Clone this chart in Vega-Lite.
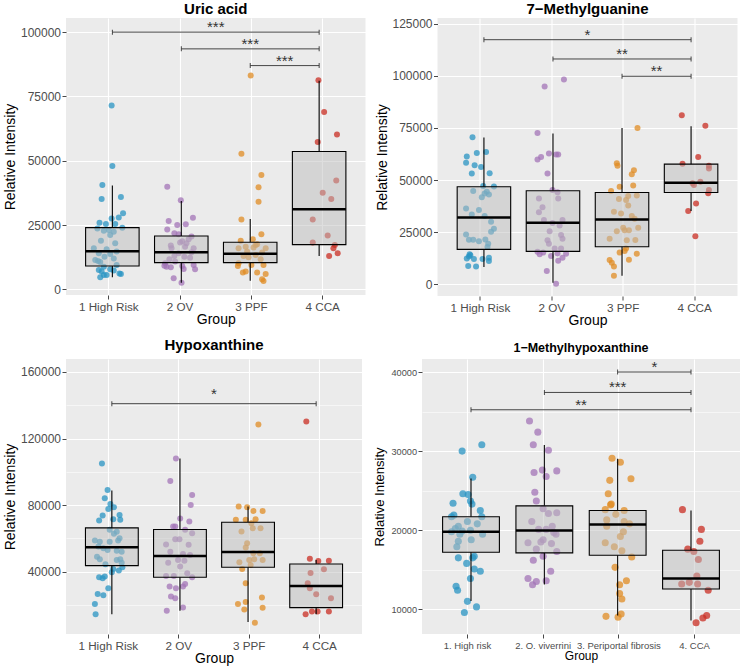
{
"$schema": "https://vega.github.io/schema/vega-lite/v6.json",
"padding": {"left": 3, "top": 2, "right": 0, "bottom": 0},
"config": {
 "font": "Liberation Sans",
 "view": {"fill": "#EBEBEB", "stroke": null},
 "axis": {"domain": false, "tickColor": "#333333", "tickSize": 4, "tickWidth": 0.9, "labelColor": "#4D4D4D", "labelFont": "Liberation Sans", "titleFont": "Liberation Sans", "titleFontWeight": "normal", "titleColor": "black", "gridColor": "white", "labelOverlap": false},
 "title": {"font": "Liberation Sans", "fontWeight": "bold", "fontSize": 15, "anchor": "middle", "color": "black"}
},
"datasets": {
 "p1": [
{"g":"1 High Risk","j":0.04,"v":71500},{"g":"1 High Risk","j":0.05,"v":48000},{"g":"1 High Risk","j":-0.09,"v":40600},{"g":"1 High Risk","j":-0.10,"v":35100},{"g":"1 High Risk","j":0.17,"v":35900},{"g":"1 High Risk","j":0.20,"v":29600},{"g":"1 High Risk","j":0.14,"v":27900},{"g":"1 High Risk","j":0.04,"v":27500},{"g":"1 High Risk","j":-0.13,"v":25900},{"g":"1 High Risk","j":-0.04,"v":25400},{"g":"1 High Risk","j":0.09,"v":25400},{"g":"1 High Risk","j":0.19,"v":23900},{"g":"1 High Risk","j":-0.16,"v":23700},{"g":"1 High Risk","j":0.00,"v":23100},{"g":"1 High Risk","j":-0.07,"v":22800},{"g":"1 High Risk","j":0.07,"v":22400},{"g":"1 High Risk","j":0.02,"v":21100},{"g":"1 High Risk","j":-0.11,"v":18900},{"g":"1 High Risk","j":0.09,"v":17900},{"g":"1 High Risk","j":-0.21,"v":16000},{"g":"1 High Risk","j":-0.03,"v":15600},{"g":"1 High Risk","j":0.11,"v":14700},{"g":"1 High Risk","j":-0.14,"v":14000},{"g":"1 High Risk","j":0.02,"v":13700},{"g":"1 High Risk","j":0.07,"v":12000},{"g":"1 High Risk","j":-0.06,"v":12700},{"g":"1 High Risk","j":-0.19,"v":11400},{"g":"1 High Risk","j":-0.15,"v":11000},{"g":"1 High Risk","j":-0.12,"v":10600},{"g":"1 High Risk","j":0.11,"v":9500},{"g":"1 High Risk","j":-0.07,"v":8800},{"g":"1 High Risk","j":0.02,"v":7800},{"g":"1 High Risk","j":-0.14,"v":7500},{"g":"1 High Risk","j":0.07,"v":7300},{"g":"1 High Risk","j":-0.10,"v":6900},{"g":"1 High Risk","j":0.15,"v":6200},{"g":"1 High Risk","j":0.17,"v":6000},{"g":"1 High Risk","j":-0.03,"v":5600},{"g":"1 High Risk","j":-0.07,"v":5600},{"g":"1 High Risk","j":-0.12,"v":4700},
{"g":"2 OV","j":-0.18,"v":39900},{"g":"2 OV","j":0.01,"v":34600},{"g":"2 OV","j":-0.16,"v":26600},{"g":"2 OV","j":0.18,"v":27800},{"g":"2 OV","j":0.08,"v":25300},{"g":"2 OV","j":-0.04,"v":25000},{"g":"2 OV","j":-0.18,"v":23300},{"g":"2 OV","j":-0.08,"v":21800},{"g":"2 OV","j":-0.02,"v":21400},{"g":"2 OV","j":0.16,"v":20500},{"g":"2 OV","j":0.12,"v":19500},{"g":"2 OV","j":0.03,"v":18700},{"g":"2 OV","j":-0.12,"v":16000},{"g":"2 OV","j":0.07,"v":16600},{"g":"2 OV","j":0.16,"v":14400},{"g":"2 OV","j":-0.02,"v":14000},{"g":"2 OV","j":-0.08,"v":13000},{"g":"2 OV","j":-0.15,"v":11700},{"g":"2 OV","j":0.06,"v":12700},{"g":"2 OV","j":0.14,"v":12300},{"g":"2 OV","j":-0.21,"v":10100},{"g":"2 OV","j":-0.07,"v":10800},{"g":"2 OV","j":-0.19,"v":8800},{"g":"2 OV","j":-0.13,"v":8600},{"g":"2 OV","j":0.03,"v":9100},{"g":"2 OV","j":0.19,"v":9500},{"g":"2 OV","j":0.21,"v":7800},{"g":"2 OV","j":0.05,"v":7900},{"g":"2 OV","j":-0.09,"v":4300},{"g":"2 OV","j":0.02,"v":2600},{"g":"2 OV","j":0.09,"v":17900},{"g":"2 OV","j":-0.22,"v":9200},{"g":"2 OV","j":0.00,"v":18200},{"g":"2 OV","j":-0.13,"v":17000},{"g":"2 OV","j":0.19,"v":16000},
{"g":"3 PPF","j":-0.01,"v":83100},{"g":"3 PPF","j":-0.14,"v":52700},{"g":"3 PPF","j":0.14,"v":44500},{"g":"3 PPF","j":0.10,"v":39700},{"g":"3 PPF","j":0.10,"v":34100},{"g":"3 PPF","j":-0.14,"v":27200},{"g":"3 PPF","j":0.14,"v":21400},{"g":"3 PPF","j":-0.15,"v":18900},{"g":"3 PPF","j":0.02,"v":19500},{"g":"3 PPF","j":0.08,"v":17500},{"g":"3 PPF","j":-0.08,"v":16600},{"g":"3 PPF","j":0.03,"v":16300},{"g":"3 PPF","j":-0.18,"v":16000},{"g":"3 PPF","j":0.20,"v":16000},{"g":"3 PPF","j":-0.06,"v":14700},{"g":"3 PPF","j":0.15,"v":14300},{"g":"3 PPF","j":0.06,"v":13400},{"g":"3 PPF","j":-0.11,"v":13000},{"g":"3 PPF","j":-0.04,"v":12500},{"g":"3 PPF","j":0.13,"v":11700},{"g":"3 PPF","j":-0.18,"v":10100},{"g":"3 PPF","j":-0.19,"v":9100},{"g":"3 PPF","j":0.00,"v":9500},{"g":"3 PPF","j":0.17,"v":9500},{"g":"3 PPF","j":-0.08,"v":6900},{"g":"3 PPF","j":-0.12,"v":6500},{"g":"3 PPF","j":0.08,"v":6500},{"g":"3 PPF","j":0.20,"v":6000},{"g":"3 PPF","j":0.15,"v":3900},{"g":"3 PPF","j":0.17,"v":3200},{"g":"3 PPF","j":0.06,"v":17200},
{"g":"4 CCA","j":-0.06,"v":81300},{"g":"4 CCA","j":0.02,"v":69000},{"g":"4 CCA","j":0.20,"v":60200},{"g":"4 CCA","j":-0.07,"v":57300},{"g":"4 CCA","j":0.19,"v":42300},{"g":"4 CCA","j":0.00,"v":37600},{"g":"4 CCA","j":0.12,"v":35100},{"g":"4 CCA","j":-0.14,"v":27200},{"g":"4 CCA","j":0.07,"v":20900},{"g":"4 CCA","j":-0.14,"v":18200},{"g":"4 CCA","j":0.17,"v":17200},{"g":"4 CCA","j":0.15,"v":16000},{"g":"4 CCA","j":0.21,"v":14000},{"g":"4 CCA","j":0.09,"v":13000}
 ],
 "b1": [
{"i":1,"lo":4670,"q1":9080,"med":14790,"q3":24000,"hi":40340},
{"i":2,"lo":2590,"q1":10380,"med":14400,"q3":20750,"hi":34370},
{"i":3,"lo":3370,"q1":10380,"med":13880,"q3":18290,"hi":27370},
{"i":4,"lo":12970,"q1":17380,"med":31130,"q3":53570,"hi":81060}
 ],
 "s1": [
{"a":1,"b":4,"y":100000,"t":"***"},{"a":2,"b":4,"y":93500,"t":"***"},{"a":3,"b":4,"y":87000,"t":"***"}
 ],
 "p2": [
{"g":"1 High Risk","j":-0.11,"v":70500},{"g":"1 High Risk","j":-0.19,"v":61300},{"g":"1 High Risk","j":0.08,"v":63500},{"g":"1 High Risk","j":-0.05,"v":63000},{"g":"1 High Risk","j":-0.20,"v":58300},{"g":"1 High Risk","j":-0.08,"v":57100},{"g":"1 High Risk","j":0.01,"v":56300},{"g":"1 High Risk","j":-0.12,"v":53100},{"g":"1 High Risk","j":0.13,"v":53300},{"g":"1 High Risk","j":0.04,"v":47100},{"g":"1 High Risk","j":0.19,"v":46900},{"g":"1 High Risk","j":0.09,"v":44400},{"g":"1 High Risk","j":-0.10,"v":44800},{"g":"1 High Risk","j":0.06,"v":43600},{"g":"1 High Risk","j":0.12,"v":43100},{"g":"1 High Risk","j":0.02,"v":41800},{"g":"1 High Risk","j":-0.20,"v":36400},{"g":"1 High Risk","j":-0.02,"v":35600},{"g":"1 High Risk","j":0.06,"v":32700},{"g":"1 High Risk","j":-0.12,"v":33500},{"g":"1 High Risk","j":0.15,"v":30000},{"g":"1 High Risk","j":0.19,"v":26700},{"g":"1 High Risk","j":0.15,"v":25200},{"g":"1 High Risk","j":-0.20,"v":23900},{"g":"1 High Risk","j":-0.16,"v":21400},{"g":"1 High Risk","j":-0.10,"v":21400},{"g":"1 High Risk","j":-0.02,"v":20700},{"g":"1 High Risk","j":0.07,"v":21500},{"g":"1 High Risk","j":0.11,"v":19500},{"g":"1 High Risk","j":0.10,"v":17900},{"g":"1 High Risk","j":-0.15,"v":14400},{"g":"1 High Risk","j":-0.16,"v":13400},{"g":"1 High Risk","j":-0.19,"v":12400},{"g":"1 High Risk","j":-0.09,"v":12100},{"g":"1 High Risk","j":0.03,"v":12100},{"g":"1 High Risk","j":0.12,"v":12800},{"g":"1 High Risk","j":0.12,"v":11200},{"g":"1 High Risk","j":-0.17,"v":8800},{"g":"1 High Risk","j":-0.06,"v":8500},{"g":"1 High Risk","j":-0.14,"v":13900},
{"g":"2 OV","j":0.17,"v":98200},{"g":"2 OV","j":-0.10,"v":94800},{"g":"2 OV","j":-0.20,"v":72500},{"g":"2 OV","j":-0.04,"v":62700},{"g":"2 OV","j":0.09,"v":62200},{"g":"2 OV","j":0.06,"v":62200},{"g":"2 OV","j":-0.15,"v":61000},{"g":"2 OV","j":-0.20,"v":59900},{"g":"2 OV","j":-0.06,"v":53100},{"g":"2 OV","j":0.01,"v":45200},{"g":"2 OV","j":0.08,"v":44200},{"g":"2 OV","j":-0.18,"v":41200},{"g":"2 OV","j":0.09,"v":41200},{"g":"2 OV","j":-0.13,"v":36900},{"g":"2 OV","j":-0.18,"v":34600},{"g":"2 OV","j":-0.11,"v":30800},{"g":"2 OV","j":0.15,"v":30800},{"g":"2 OV","j":0.11,"v":28200},{"g":"2 OV","j":0.01,"v":29400},{"g":"2 OV","j":-0.03,"v":25500},{"g":"2 OV","j":0.13,"v":23600},{"g":"2 OV","j":0.15,"v":21900},{"g":"2 OV","j":-0.06,"v":21100},{"g":"2 OV","j":-0.04,"v":19500},{"g":"2 OV","j":-0.20,"v":15600},{"g":"2 OV","j":-0.12,"v":15200},{"g":"2 OV","j":0.04,"v":17200},{"g":"2 OV","j":0.13,"v":17200},{"g":"2 OV","j":-0.17,"v":14400},{"g":"2 OV","j":0.20,"v":14700},{"g":"2 OV","j":-0.01,"v":13600},{"g":"2 OV","j":0.15,"v":12800},{"g":"2 OV","j":0.09,"v":11300},{"g":"2 OV","j":-0.07,"v":6400},{"g":"2 OV","j":0.06,"v":300},{"g":"2 OV","j":0.08,"v":14800},
{"g":"3 PPF","j":0.20,"v":75000},{"g":"3 PPF","j":-0.09,"v":58100},{"g":"3 PPF","j":-0.08,"v":56800},{"g":"3 PPF","j":0.15,"v":54700},{"g":"3 PPF","j":0.12,"v":52800},{"g":"3 PPF","j":-0.05,"v":46800},{"g":"3 PPF","j":0.14,"v":47400},{"g":"3 PPF","j":-0.17,"v":44700},{"g":"3 PPF","j":0.07,"v":42300},{"g":"3 PPF","j":0.19,"v":42600},{"g":"3 PPF","j":-0.06,"v":40900},{"g":"3 PPF","j":0.04,"v":40400},{"g":"3 PPF","j":0.07,"v":37800},{"g":"3 PPF","j":-0.13,"v":34800},{"g":"3 PPF","j":-0.03,"v":34000},{"g":"3 PPF","j":0.12,"v":32700},{"g":"3 PPF","j":0.16,"v":31400},{"g":"3 PPF","j":0.00,"v":27100},{"g":"3 PPF","j":0.21,"v":27100},{"g":"3 PPF","j":0.02,"v":25900},{"g":"3 PPF","j":0.08,"v":25900},{"g":"3 PPF","j":-0.09,"v":25500},{"g":"3 PPF","j":-0.19,"v":21900},{"g":"3 PPF","j":0.05,"v":21100},{"g":"3 PPF","j":0.17,"v":21200},{"g":"3 PPF","j":0.04,"v":17200},{"g":"3 PPF","j":-0.05,"v":15200},{"g":"3 PPF","j":0.19,"v":14700},{"g":"3 PPF","j":0.08,"v":11800},{"g":"3 PPF","j":-0.19,"v":11700},{"g":"3 PPF","j":-0.16,"v":10400},{"g":"3 PPF","j":-0.13,"v":8500},{"g":"3 PPF","j":-0.13,"v":4100},{"g":"3 PPF","j":0.02,"v":16000},
{"g":"4 CCA","j":-0.18,"v":81100},{"g":"4 CCA","j":0.15,"v":76000},{"g":"4 CCA","j":0.05,"v":61000},{"g":"4 CCA","j":-0.17,"v":57800},{"g":"4 CCA","j":0.20,"v":56800},{"g":"4 CCA","j":0.20,"v":55500},{"g":"4 CCA","j":0.08,"v":49200},{"g":"4 CCA","j":-0.03,"v":48500},{"g":"4 CCA","j":-0.01,"v":47600},{"g":"4 CCA","j":0.20,"v":45200},{"g":"4 CCA","j":0.19,"v":43700},{"g":"4 CCA","j":0.02,"v":38800},{"g":"4 CCA","j":-0.09,"v":35100},{"g":"4 CCA","j":0.01,"v":23000}
 ],
 "b2": [
{"i":1,"lo":8300,"q1":16760,"med":32080,"q3":46760,"hi":70380},
{"i":2,"lo":800,"q1":15800,"med":29530,"q3":44850,"hi":72300},
{"i":3,"lo":4150,"q1":18030,"med":31120,"q3":44050,"hi":75010},
{"i":4,"lo":35110,"q1":44050,"med":48680,"q3":57620,"hi":75810}
 ],
 "s2": [
{"a":1,"b":4,"y":117300,"t":"*"},{"a":2,"b":4,"y":108050,"t":"**"},{"a":3,"b":4,"y":99750,"t":"**"}
 ],
 "p3": [
{"g":"1 High Risk","j":-0.09,"v":105000},{"g":"1 High Risk","j":-0.01,"v":89000},{"g":"1 High Risk","j":-0.05,"v":84100},{"g":"1 High Risk","j":0.03,"v":80700},{"g":"1 High Risk","j":0.08,"v":78700},{"g":"1 High Risk","j":0.00,"v":77700},{"g":"1 High Risk","j":-0.13,"v":70700},{"g":"1 High Risk","j":0.16,"v":74100},{"g":"1 High Risk","j":0.17,"v":71100},{"g":"1 High Risk","j":0.07,"v":71500},{"g":"1 High Risk","j":-0.08,"v":73700},{"g":"1 High Risk","j":0.02,"v":65100},{"g":"1 High Risk","j":0.12,"v":63900},{"g":"1 High Risk","j":0.08,"v":62700},{"g":"1 High Risk","j":0.16,"v":60100},{"g":"1 High Risk","j":-0.19,"v":58700},{"g":"1 High Risk","j":-0.12,"v":57900},{"g":"1 High Risk","j":0.02,"v":57900},{"g":"1 High Risk","j":0.14,"v":58700},{"g":"1 High Risk","j":-0.14,"v":55100},{"g":"1 High Risk","j":-0.07,"v":54100},{"g":"1 High Risk","j":-0.01,"v":53000},{"g":"1 High Risk","j":0.12,"v":52600},{"g":"1 High Risk","j":0.19,"v":52000},{"g":"1 High Risk","j":-0.16,"v":49000},{"g":"1 High Risk","j":-0.12,"v":47400},{"g":"1 High Risk","j":0.12,"v":47000},{"g":"1 High Risk","j":0.17,"v":47400},{"g":"1 High Risk","j":0.19,"v":45400},{"g":"1 High Risk","j":-0.04,"v":44400},{"g":"1 High Risk","j":0.20,"v":42600},{"g":"1 High Risk","j":0.07,"v":41600},{"g":"1 High Risk","j":0.15,"v":40600},{"g":"1 High Risk","j":0.05,"v":39600},{"g":"1 High Risk","j":-0.13,"v":36600},{"g":"1 High Risk","j":-0.08,"v":36000},{"g":"1 High Risk","j":-0.05,"v":37000},{"g":"1 High Risk","j":0.00,"v":30000},{"g":"1 High Risk","j":-0.15,"v":26600},{"g":"1 High Risk","j":-0.07,"v":25800},{"g":"1 High Risk","j":-0.19,"v":20500},{"g":"1 High Risk","j":-0.18,"v":14300},
{"g":"2 OV","j":-0.04,"v":108000},{"g":"2 OV","j":-0.12,"v":94400},{"g":"2 OV","j":0.19,"v":86000},{"g":"2 OV","j":0.17,"v":80100},{"g":"2 OV","j":0.02,"v":71900},{"g":"2 OV","j":0.15,"v":70100},{"g":"2 OV","j":-0.08,"v":67100},{"g":"2 OV","j":-0.05,"v":67100},{"g":"2 OV","j":0.09,"v":65100},{"g":"2 OV","j":0.19,"v":63100},{"g":"2 OV","j":-0.05,"v":59500},{"g":"2 OV","j":0.01,"v":59500},{"g":"2 OV","j":-0.18,"v":56300},{"g":"2 OV","j":0.14,"v":56100},{"g":"2 OV","j":-0.12,"v":52000},{"g":"2 OV","j":0.06,"v":50600},{"g":"2 OV","j":0.16,"v":50000},{"g":"2 OV","j":-0.01,"v":47000},{"g":"2 OV","j":0.08,"v":46600},{"g":"2 OV","j":-0.15,"v":45400},{"g":"2 OV","j":0.02,"v":43000},{"g":"2 OV","j":0.12,"v":39000},{"g":"2 OV","j":-0.18,"v":37400},{"g":"2 OV","j":-0.07,"v":37400},{"g":"2 OV","j":0.19,"v":36600},{"g":"2 OV","j":-0.13,"v":31000},{"g":"2 OV","j":-0.04,"v":30000},{"g":"2 OV","j":0.06,"v":31000},{"g":"2 OV","j":0.09,"v":32600},{"g":"2 OV","j":-0.11,"v":25000},{"g":"2 OV","j":-0.05,"v":24000},{"g":"2 OV","j":0.06,"v":18500},{"g":"2 OV","j":-0.17,"v":16500},
{"g":"3 PPF","j":0.13,"v":128500},{"g":"3 PPF","j":-0.15,"v":79100},{"g":"3 PPF","j":-0.03,"v":78700},{"g":"3 PPF","j":0.06,"v":76500},{"g":"3 PPF","j":0.19,"v":76500},{"g":"3 PPF","j":-0.19,"v":71100},{"g":"3 PPF","j":0.09,"v":71500},{"g":"3 PPF","j":-0.05,"v":71100},{"g":"3 PPF","j":0.03,"v":69100},{"g":"3 PPF","j":-0.11,"v":64100},{"g":"3 PPF","j":0.05,"v":66100},{"g":"3 PPF","j":0.16,"v":66100},{"g":"3 PPF","j":-0.03,"v":57100},{"g":"3 PPF","j":-0.05,"v":54500},{"g":"3 PPF","j":0.06,"v":51000},{"g":"3 PPF","j":0.15,"v":51000},{"g":"3 PPF","j":0.00,"v":47000},{"g":"3 PPF","j":0.07,"v":47400},{"g":"3 PPF","j":0.19,"v":47000},{"g":"3 PPF","j":-0.14,"v":45600},{"g":"3 PPF","j":0.02,"v":44000},{"g":"3 PPF","j":-0.10,"v":41600},{"g":"3 PPF","j":-0.05,"v":33000},{"g":"3 PPF","j":-0.05,"v":21700},{"g":"3 PPF","j":-0.16,"v":20500},{"g":"3 PPF","j":-0.07,"v":17300},{"g":"3 PPF","j":0.18,"v":24500},{"g":"3 PPF","j":0.19,"v":18300},{"g":"3 PPF","j":0.08,"v":9300},
{"g":"4 CCA","j":-0.19,"v":130300},{"g":"4 CCA","j":-0.14,"v":47800},{"g":"4 CCA","j":-0.02,"v":46400},{"g":"4 CCA","j":0.13,"v":46600},{"g":"4 CCA","j":0.06,"v":41400},{"g":"4 CCA","j":-0.13,"v":39200},{"g":"4 CCA","j":-0.17,"v":33000},{"g":"4 CCA","j":-0.14,"v":30000},{"g":"4 CCA","j":-0.05,"v":26400},{"g":"4 CCA","j":0.16,"v":24000},{"g":"4 CCA","j":-0.03,"v":16000},{"g":"4 CCA","j":-0.11,"v":16000},{"g":"4 CCA","j":0.13,"v":16000},{"g":"4 CCA","j":-0.20,"v":14300}
 ],
 "b3": [
{"i":1,"lo":14310,"q1":43610,"med":54650,"q3":66290,"hi":88760},
{"i":2,"lo":16520,"q1":36590,"med":49430,"q3":65280,"hi":108030},
{"i":3,"lo":9700,"q1":42610,"med":51840,"q3":69700,"hi":79130},
{"i":4,"lo":14310,"q1":18330,"med":31370,"q3":44620,"hi":47020}
 ],
 "s3": [
{"a":1,"b":4,"y":140940,"t":"*"}
 ],
 "p4": [
{"g":"1. High risk","j":0.19,"v":30800},{"g":"1. High risk","j":-0.07,"v":30000},{"g":"1. High risk","j":0.07,"v":26700},{"g":"1. High risk","j":-0.06,"v":24600},{"g":"1. High risk","j":0.01,"v":24500},{"g":"1. High risk","j":0.04,"v":23700},{"g":"1. High risk","j":-0.19,"v":23400},{"g":"1. High risk","j":0.06,"v":23300},{"g":"1. High risk","j":0.17,"v":22500},{"g":"1. High risk","j":-0.18,"v":21900},{"g":"1. High risk","j":0.19,"v":21700},{"g":"1. High risk","j":-0.21,"v":21700},{"g":"1. High risk","j":0.00,"v":21100},{"g":"1. High risk","j":0.13,"v":20800},{"g":"1. High risk","j":-0.12,"v":20500},{"g":"1. High risk","j":-0.16,"v":20200},{"g":"1. High risk","j":0.04,"v":20000},{"g":"1. High risk","j":-0.07,"v":19900},{"g":"1. High risk","j":-0.21,"v":19800},{"g":"1. High risk","j":0.20,"v":19500},{"g":"1. High risk","j":-0.10,"v":19500},{"g":"1. High risk","j":0.05,"v":18800},{"g":"1. High risk","j":-0.12,"v":18600},{"g":"1. High risk","j":-0.14,"v":17900},{"g":"1. High risk","j":-0.12,"v":16500},{"g":"1. High risk","j":0.09,"v":16700},{"g":"1. High risk","j":0.07,"v":16500},{"g":"1. High risk","j":-0.01,"v":15800},{"g":"1. High risk","j":0.09,"v":15100},{"g":"1. High risk","j":0.17,"v":14800},{"g":"1. High risk","j":0.04,"v":13900},{"g":"1. High risk","j":-0.15,"v":12900},{"g":"1. High risk","j":-0.13,"v":12400},{"g":"1. High risk","j":0.00,"v":11000},{"g":"1. High risk","j":0.12,"v":10300},{"g":"1. High risk","j":-0.04,"v":9600},
{"g":"2. O. viverrini","j":-0.18,"v":33800},{"g":"2. O. viverrini","j":-0.07,"v":32400},{"g":"2. O. viverrini","j":-0.13,"v":30800},{"g":"2. O. viverrini","j":0.07,"v":30100},{"g":"2. O. viverrini","j":-0.01,"v":27600},{"g":"2. O. viverrini","j":0.18,"v":27500},{"g":"2. O. viverrini","j":-0.12,"v":27300},{"g":"2. O. viverrini","j":0.04,"v":26800},{"g":"2. O. viverrini","j":-0.11,"v":24800},{"g":"2. O. viverrini","j":-0.09,"v":23700},{"g":"2. O. viverrini","j":0.00,"v":22700},{"g":"2. O. viverrini","j":0.18,"v":22200},{"g":"2. O. viverrini","j":0.07,"v":22100},{"g":"2. O. viverrini","j":-0.15,"v":21100},{"g":"2. O. viverrini","j":0.12,"v":20500},{"g":"2. O. viverrini","j":0.04,"v":20100},{"g":"2. O. viverrini","j":0.14,"v":19700},{"g":"2. O. viverrini","j":0.17,"v":19500},{"g":"2. O. viverrini","j":0.00,"v":18800},{"g":"2. O. viverrini","j":-0.20,"v":18400},{"g":"2. O. viverrini","j":0.11,"v":18300},{"g":"2. O. viverrini","j":-0.09,"v":17600},{"g":"2. O. viverrini","j":0.18,"v":17300},{"g":"2. O. viverrini","j":0.00,"v":16700},{"g":"2. O. viverrini","j":-0.13,"v":16200},{"g":"2. O. viverrini","j":0.10,"v":14800},{"g":"2. O. viverrini","j":-0.20,"v":13900},{"g":"2. O. viverrini","j":-0.09,"v":13500},{"g":"2. O. viverrini","j":0.04,"v":13600},{"g":"2. O. viverrini","j":-0.14,"v":13100},{"g":"2. O. viverrini","j":-0.03,"v":18500},{"g":"2. O. viverrini","j":-0.06,"v":20100},
{"g":"3. Periportal fibrosis","j":-0.09,"v":29100},{"g":"3. Periportal fibrosis","j":0.02,"v":28600},{"g":"3. Periportal fibrosis","j":-0.12,"v":26300},{"g":"3. Periportal fibrosis","j":0.16,"v":26500},{"g":"3. Periportal fibrosis","j":-0.14,"v":24600},{"g":"3. Periportal fibrosis","j":-0.10,"v":23300},{"g":"3. Periportal fibrosis","j":-0.18,"v":22600},{"g":"3. Periportal fibrosis","j":0.07,"v":22500},{"g":"3. Periportal fibrosis","j":-0.04,"v":22000},{"g":"3. Periportal fibrosis","j":-0.16,"v":21300},{"g":"3. Periportal fibrosis","j":0.07,"v":21100},{"g":"3. Periportal fibrosis","j":-0.16,"v":20500},{"g":"3. Periportal fibrosis","j":0.14,"v":20800},{"g":"3. Periportal fibrosis","j":0.06,"v":19800},{"g":"3. Periportal fibrosis","j":0.02,"v":19200},{"g":"3. Periportal fibrosis","j":-0.06,"v":17900},{"g":"3. Periportal fibrosis","j":0.04,"v":17400},{"g":"3. Periportal fibrosis","j":-0.18,"v":18400},{"g":"3. Periportal fibrosis","j":0.17,"v":16600},{"g":"3. Periportal fibrosis","j":-0.05,"v":15300},{"g":"3. Periportal fibrosis","j":0.10,"v":13600},{"g":"3. Periportal fibrosis","j":0.01,"v":13100},{"g":"3. Periportal fibrosis","j":0.01,"v":12000},{"g":"3. Periportal fibrosis","j":0.04,"v":11300},{"g":"3. Periportal fibrosis","j":0.03,"v":9400},{"g":"3. Periportal fibrosis","j":-0.01,"v":9000},{"g":"3. Periportal fibrosis","j":-0.17,"v":9100},{"g":"3. Periportal fibrosis","j":-0.11,"v":23200},
{"g":"4. CCA","j":-0.16,"v":22600},{"g":"4. CCA","j":0.09,"v":20100},{"g":"4. CCA","j":0.07,"v":18600},{"g":"4. CCA","j":-0.09,"v":17600},{"g":"4. CCA","j":-0.01,"v":17300},{"g":"4. CCA","j":0.05,"v":16300},{"g":"4. CCA","j":0.03,"v":14200},{"g":"4. CCA","j":-0.07,"v":13400},{"g":"4. CCA","j":-0.17,"v":13200},{"g":"4. CCA","j":0.04,"v":13200},{"g":"4. CCA","j":0.18,"v":12400},{"g":"4. CCA","j":0.16,"v":9200},{"g":"4. CCA","j":0.11,"v":8900},{"g":"4. CCA","j":0.02,"v":8300}
 ],
 "b4": [
{"i":1,"lo":11055,"q1":17215,"med":19790,"q3":21690,"hi":26540},
{"i":2,"lo":13120,"q1":17130,"med":19960,"q3":23080,"hi":30760},
{"i":3,"lo":9200,"q1":16835,"med":20720,"q3":22490,"hi":29030},
{"i":4,"lo":8570,"q1":12570,"med":13880,"q3":17470,"hi":22490}
 ],
 "s4": [
{"a":3,"b":4,"y":40000,"t":"*"},{"a":2,"b":4,"y":37420,"t":"***"},{"a":1,"b":4,"y":35230,"t":"**"}
 ]
},
"bounds": "full",
"spacing": 10,
"resolve": {"scale": {"color": "independent", "xOffset": "independent"}},
"vconcat": [
{
 "hconcat": [
  {
   "width": 299.5, "height": 277,
   "title": {"text": "Uric acid", "offset": 1, "fontSize": 15},
   "resolve": {"scale": {"x": "independent"}},
   "layer": [
    {"data": {"name": "p1"}, "mark": {"type": "circle", "size": 36, "opacity": 0.75},
     "encoding": {
      "x": {"field": "g", "type": "nominal", "title": "Group",
       "scale": {"domain": ["1 High Risk","2 OV","3 PPF","4 CCA"], "paddingInner": 0, "paddingOuter": 0.1},
       "axis": {"labelAngle": 0, "grid": true, "bandPosition": 0.5, "gridWidth": 1.1, "labelFontSize": 11.7, "titleFontSize": 14, "labelPadding": 2, "titlePadding": 0}},
      "xOffset": {"field": "j", "type": "quantitative", "scale": {"domain": [-0.5, 0.5]}},
      "y": {"field": "v", "type": "quantitative", "scale": {"domain": [-2200, 105500], "nice": false, "zero": false},
        "axis": {"title": "Relative Intensity", "values": [0,12500,25000,37500,50000,62500,75000,87500,100000],
         "labelExpr": "datum.value % 25000 === 0 ? format(datum.value, 'd') : ''",
         "gridWidth": {"condition": {"test": "datum.value % 25000 !== 0", "value": 0.55}, "value": 1.1},
         "tickOpacity": {"condition": {"test": "datum.value % 25000 !== 0", "value": 0}, "value": 1},
         "labelFontSize": 12, "titleFontSize": 14, "labelPadding": 1.5, "titlePadding": 2.5}},
      "color": {"field": "g", "type": "nominal", "scale": {"domain": ["1 High Risk","2 OV","3 PPF","4 CCA"], "range": ["#2A94C3","#A374B7","#E08C24","#CA2E23"]}, "legend": null}}},
    {
     "layer": [
      {"data": {"name": "b1"}, "mark": {"type": "rule", "color": "black", "strokeWidth": 1.1}, "encoding": {"x": {"field": "i", "type": "quantitative", "scale": {"domain": [0.4, 4.6], "nice": false, "zero": false}, "axis": null}, "y": {"field": "lo", "type": "quantitative"}, "y2": {"field": "q1"}}},
      {"data": {"name": "b1"}, "mark": {"type": "rule", "color": "black", "strokeWidth": 1.1}, "encoding": {"x": {"field": "i", "type": "quantitative"}, "y": {"field": "q3", "type": "quantitative"}, "y2": {"field": "hi"}}},
      {"data": {"name": "b1"}, "mark": {"type": "bar", "width": 53.5, "fill": "#bebebe", "fillOpacity": 0.5, "stroke": "black", "strokeWidth": 1.1}, "encoding": {"x": {"field": "i", "type": "quantitative"}, "y": {"field": "q1", "type": "quantitative"}, "y2": {"field": "q3"}}},
      {"data": {"name": "b1"}, "mark": {"type": "tick", "orient": "horizontal", "color": "black", "thickness": 2.5, "size": 53.5, "opacity": 1}, "encoding": {"x": {"field": "i", "type": "quantitative"}, "y": {"field": "med", "type": "quantitative"}}},
      {"data": {"name": "s1"}, "mark": {"type": "rule", "color": "#333333", "strokeWidth": 0.9}, "encoding": {"x": {"field": "a", "type": "quantitative"}, "x2": {"field": "b"}, "y": {"field": "y", "type": "quantitative"}}},
      {"data": {"name": "s1"}, "transform": [{"fold": ["a", "b"], "as": ["k", "pos"]}], "mark": {"type": "tick", "orient": "vertical", "color": "#333333", "size": 5, "thickness": 0.9, "opacity": 1}, "encoding": {"x": {"field": "pos", "type": "quantitative"}, "y": {"field": "y", "type": "quantitative"}}},
      {"data": {"name": "s1"}, "transform": [{"calculate": "(datum.a + datum.b) / 2", "as": "m"}], "mark": {"type": "text", "baseline": "alphabetic", "dy": 0, "fontSize": 15, "color": "#333333"}, "encoding": {"x": {"field": "m", "type": "quantitative"}, "y": {"field": "y", "type": "quantitative"}, "text": {"field": "t"}}}
     ]
    }
   ]
  },
  {
   "width": 300, "height": 278,
   "title": {"text": "7−Methylguanine", "offset": 0.5, "fontSize": 15},
   "resolve": {"scale": {"x": "independent"}},
   "layer": [
    {"data": {"name": "p2"}, "mark": {"type": "circle", "size": 36, "opacity": 0.75},
     "encoding": {
      "x": {"field": "g", "type": "nominal", "title": "Group",
       "scale": {"domain": ["1 High Risk","2 OV","3 PPF","4 CCA"], "paddingInner": 0, "paddingOuter": 0.1},
       "axis": {"labelAngle": 0, "grid": true, "bandPosition": 0.5, "gridWidth": 1.1, "labelFontSize": 11.7, "titleFontSize": 14, "labelPadding": 2, "titlePadding": 0}},
      "xOffset": {"field": "j", "type": "quantitative", "scale": {"domain": [-0.5, 0.5]}},
      "y": {"field": "v", "type": "quantitative", "scale": {"domain": [-5600, 127700], "nice": false, "zero": false},
        "axis": {"title": "Relative Intensity", "values": [0,12500,25000,37500,50000,62500,75000,87500,100000,112500,125000],
         "labelExpr": "datum.value % 25000 === 0 ? format(datum.value, 'd') : ''",
         "gridWidth": {"condition": {"test": "datum.value % 25000 !== 0", "value": 0.55}, "value": 1.1},
         "tickOpacity": {"condition": {"test": "datum.value % 25000 !== 0", "value": 0}, "value": 1},
         "labelFontSize": 12, "titleFontSize": 14, "labelPadding": 1.5, "titlePadding": 2.5}},
      "color": {"field": "g", "type": "nominal", "scale": {"domain": ["1 High Risk","2 OV","3 PPF","4 CCA"], "range": ["#2A94C3","#A374B7","#E08C24","#CA2E23"]}, "legend": null}}},
    {
     "layer": [
      {"data": {"name": "b2"}, "mark": {"type": "rule", "color": "black", "strokeWidth": 1.1}, "encoding": {"x": {"field": "i", "type": "quantitative", "scale": {"domain": [0.4, 4.6], "nice": false, "zero": false}, "axis": null}, "y": {"field": "lo", "type": "quantitative"}, "y2": {"field": "q1"}}},
      {"data": {"name": "b2"}, "mark": {"type": "rule", "color": "black", "strokeWidth": 1.1}, "encoding": {"x": {"field": "i", "type": "quantitative"}, "y": {"field": "q3", "type": "quantitative"}, "y2": {"field": "hi"}}},
      {"data": {"name": "b2"}, "mark": {"type": "bar", "width": 53.5, "fill": "#bebebe", "fillOpacity": 0.5, "stroke": "black", "strokeWidth": 1.1}, "encoding": {"x": {"field": "i", "type": "quantitative"}, "y": {"field": "q1", "type": "quantitative"}, "y2": {"field": "q3"}}},
      {"data": {"name": "b2"}, "mark": {"type": "tick", "orient": "horizontal", "color": "black", "thickness": 2.5, "size": 53.5, "opacity": 1}, "encoding": {"x": {"field": "i", "type": "quantitative"}, "y": {"field": "med", "type": "quantitative"}}},
      {"data": {"name": "s2"}, "mark": {"type": "rule", "color": "#333333", "strokeWidth": 0.9}, "encoding": {"x": {"field": "a", "type": "quantitative"}, "x2": {"field": "b"}, "y": {"field": "y", "type": "quantitative"}}},
      {"data": {"name": "s2"}, "transform": [{"fold": ["a", "b"], "as": ["k", "pos"]}], "mark": {"type": "tick", "orient": "vertical", "color": "#333333", "size": 5, "thickness": 0.9, "opacity": 1}, "encoding": {"x": {"field": "pos", "type": "quantitative"}, "y": {"field": "y", "type": "quantitative"}}},
      {"data": {"name": "s2"}, "transform": [{"calculate": "(datum.a + datum.b) / 2", "as": "m"}], "mark": {"type": "text", "baseline": "alphabetic", "dy": 0, "fontSize": 15, "color": "#333333"}, "encoding": {"x": {"field": "m", "type": "quantitative"}, "y": {"field": "y", "type": "quantitative"}, "text": {"field": "t"}}}
     ]
    }
   ]
  }
 ],
 "spacing": 71.5, "bounds": "flush",
 "resolve": {"scale": {"color": "independent", "xOffset": "independent"}}
},
{
 "hconcat": [
  {
   "width": 296, "height": 275,
   "title": {"text": "Hypoxanthine", "offset": 6, "fontSize": 15},
   "resolve": {"scale": {"x": "independent"}},
   "layer": [
    {"data": {"name": "p3"}, "mark": {"type": "circle", "size": 36, "opacity": 0.75},
     "encoding": {
      "x": {"field": "g", "type": "nominal", "title": "Group",
       "scale": {"domain": ["1 High Risk","2 OV","3 PPF","4 CCA"], "paddingInner": 0, "paddingOuter": 0.1},
       "axis": {"labelAngle": 0, "grid": true, "bandPosition": 0.5, "gridWidth": 1.1, "labelFontSize": 11.7, "titleFontSize": 14, "labelPadding": 2, "titlePadding": 0}},
      "xOffset": {"field": "j", "type": "quantitative", "scale": {"domain": [-0.5, 0.5]}},
      "y": {"field": "v", "type": "quantitative", "scale": {"domain": [2500, 167800], "nice": false, "zero": false},
        "axis": {"title": "Relative Intensity", "tickCount": 8,
         "labelExpr": "datum.value % 40000 === 0 ? format(datum.value, 'd') : ''",
         "gridWidth": {"condition": {"test": "datum.value % 40000 !== 0", "value": 0.55}, "value": 1.1},
         "tickOpacity": {"condition": {"test": "datum.value % 40000 !== 0", "value": 0}, "value": 1},
         "labelFontSize": 12, "titleFontSize": 14, "labelPadding": 1.5, "titlePadding": 2.5}},
      "color": {"field": "g", "type": "nominal", "scale": {"domain": ["1 High Risk","2 OV","3 PPF","4 CCA"], "range": ["#2A94C3","#A374B7","#E08C24","#CA2E23"]}, "legend": null}}},
    {
     "layer": [
      {"data": {"name": "b3"}, "mark": {"type": "rule", "color": "black", "strokeWidth": 1.1}, "encoding": {"x": {"field": "i", "type": "quantitative", "scale": {"domain": [0.4, 4.6], "nice": false, "zero": false}, "axis": null}, "y": {"field": "lo", "type": "quantitative"}, "y2": {"field": "q1"}}},
      {"data": {"name": "b3"}, "mark": {"type": "rule", "color": "black", "strokeWidth": 1.1}, "encoding": {"x": {"field": "i", "type": "quantitative"}, "y": {"field": "q3", "type": "quantitative"}, "y2": {"field": "hi"}}},
      {"data": {"name": "b3"}, "mark": {"type": "bar", "width": 52.8, "fill": "#bebebe", "fillOpacity": 0.5, "stroke": "black", "strokeWidth": 1.1}, "encoding": {"x": {"field": "i", "type": "quantitative"}, "y": {"field": "q1", "type": "quantitative"}, "y2": {"field": "q3"}}},
      {"data": {"name": "b3"}, "mark": {"type": "tick", "orient": "horizontal", "color": "black", "thickness": 2.5, "size": 52.8, "opacity": 1}, "encoding": {"x": {"field": "i", "type": "quantitative"}, "y": {"field": "med", "type": "quantitative"}}},
      {"data": {"name": "s3"}, "mark": {"type": "rule", "color": "#333333", "strokeWidth": 0.9}, "encoding": {"x": {"field": "a", "type": "quantitative"}, "x2": {"field": "b"}, "y": {"field": "y", "type": "quantitative"}}},
      {"data": {"name": "s3"}, "transform": [{"fold": ["a", "b"], "as": ["k", "pos"]}], "mark": {"type": "tick", "orient": "vertical", "color": "#333333", "size": 5, "thickness": 0.9, "opacity": 1}, "encoding": {"x": {"field": "pos", "type": "quantitative"}, "y": {"field": "y", "type": "quantitative"}}},
      {"data": {"name": "s3"}, "transform": [{"calculate": "(datum.a + datum.b) / 2", "as": "m"}], "mark": {"type": "text", "baseline": "alphabetic", "dy": -5, "fontSize": 15, "color": "#333333"}, "encoding": {"x": {"field": "m", "type": "quantitative"}, "y": {"field": "y", "type": "quantitative"}, "text": {"field": "t"}}}
     ]
    }
   ]
  },
  {
   "width": 318, "height": 275,
   "title": {"text": "1−Methylhypoxanthine", "offset": 5, "fontSize": 12.5},
   "resolve": {"scale": {"x": "independent"}},
   "layer": [
    {"data": {"name": "p4"}, "mark": {"type": "circle", "size": 50, "opacity": 0.75},
     "encoding": {
      "x": {"field": "g", "type": "nominal", "title": "Group",
       "scale": {"domain": ["1. High risk","2. O. viverrini","3. Periportal fibrosis","4. CCA"], "paddingInner": 0, "paddingOuter": 0.1},
       "axis": {"labelAngle": 0, "grid": true, "bandPosition": 0.5, "gridWidth": 1.1, "labelFontSize": 9.5, "titleFontSize": 12, "labelPadding": 2, "titlePadding": 1}},
      "xOffset": {"field": "j", "type": "quantitative", "scale": {"domain": [-0.5, 0.5]}},
      "y": {"field": "v", "type": "quantitative", "scale": {"domain": [6870, 41650], "nice": false, "zero": false},
        "axis": {"title": "Relative Intensity", "values": [10000,15000,20000,25000,30000,35000,40000],
         "labelExpr": "datum.value % 10000 === 0 ? format(datum.value, 'd') : ''",
         "gridWidth": {"condition": {"test": "datum.value % 10000 !== 0", "value": 0.55}, "value": 1.1},
         "tickOpacity": {"condition": {"test": "datum.value % 10000 !== 0", "value": 0}, "value": 1},
         "labelFontSize": 9.2, "titleFontSize": 13, "labelPadding": 1.5, "titlePadding": 4}},
      "color": {"field": "g", "type": "nominal", "scale": {"domain": ["1. High risk","2. O. viverrini","3. Periportal fibrosis","4. CCA"], "range": ["#2A94C3","#A374B7","#E08C24","#CA2E23"]}, "legend": null}}},
    {
     "layer": [
      {"data": {"name": "b4"}, "mark": {"type": "rule", "color": "black", "strokeWidth": 1.1}, "encoding": {"x": {"field": "i", "type": "quantitative", "scale": {"domain": [0.4, 4.6], "nice": false, "zero": false}, "axis": null}, "y": {"field": "lo", "type": "quantitative"}, "y2": {"field": "q1"}}},
      {"data": {"name": "b4"}, "mark": {"type": "rule", "color": "black", "strokeWidth": 1.1}, "encoding": {"x": {"field": "i", "type": "quantitative"}, "y": {"field": "q3", "type": "quantitative"}, "y2": {"field": "hi"}}},
      {"data": {"name": "b4"}, "mark": {"type": "bar", "width": 56.8, "fill": "#bebebe", "fillOpacity": 0.5, "stroke": "black", "strokeWidth": 1.1}, "encoding": {"x": {"field": "i", "type": "quantitative"}, "y": {"field": "q1", "type": "quantitative"}, "y2": {"field": "q3"}}},
      {"data": {"name": "b4"}, "mark": {"type": "tick", "orient": "horizontal", "color": "black", "thickness": 2.5, "size": 56.8, "opacity": 1}, "encoding": {"x": {"field": "i", "type": "quantitative"}, "y": {"field": "med", "type": "quantitative"}}},
      {"data": {"name": "s4"}, "mark": {"type": "rule", "color": "#333333", "strokeWidth": 0.9}, "encoding": {"x": {"field": "a", "type": "quantitative"}, "x2": {"field": "b"}, "y": {"field": "y", "type": "quantitative"}}},
      {"data": {"name": "s4"}, "transform": [{"fold": ["a", "b"], "as": ["k", "pos"]}], "mark": {"type": "tick", "orient": "vertical", "color": "#333333", "size": 5, "thickness": 0.9, "opacity": 1}, "encoding": {"x": {"field": "pos", "type": "quantitative"}, "y": {"field": "y", "type": "quantitative"}}},
      {"data": {"name": "s4"}, "transform": [{"calculate": "(datum.a + datum.b) / 2", "as": "m"}], "mark": {"type": "text", "baseline": "alphabetic", "dy": 0, "fontSize": 15, "color": "#333333"}, "encoding": {"x": {"field": "m", "type": "quantitative"}, "y": {"field": "y", "type": "quantitative"}, "text": {"field": "t"}}}
     ]
    }
   ]
  }
 ],
 "spacing": 60, "bounds": "flush",
 "resolve": {"scale": {"color": "independent", "xOffset": "independent"}}
}
]
}
